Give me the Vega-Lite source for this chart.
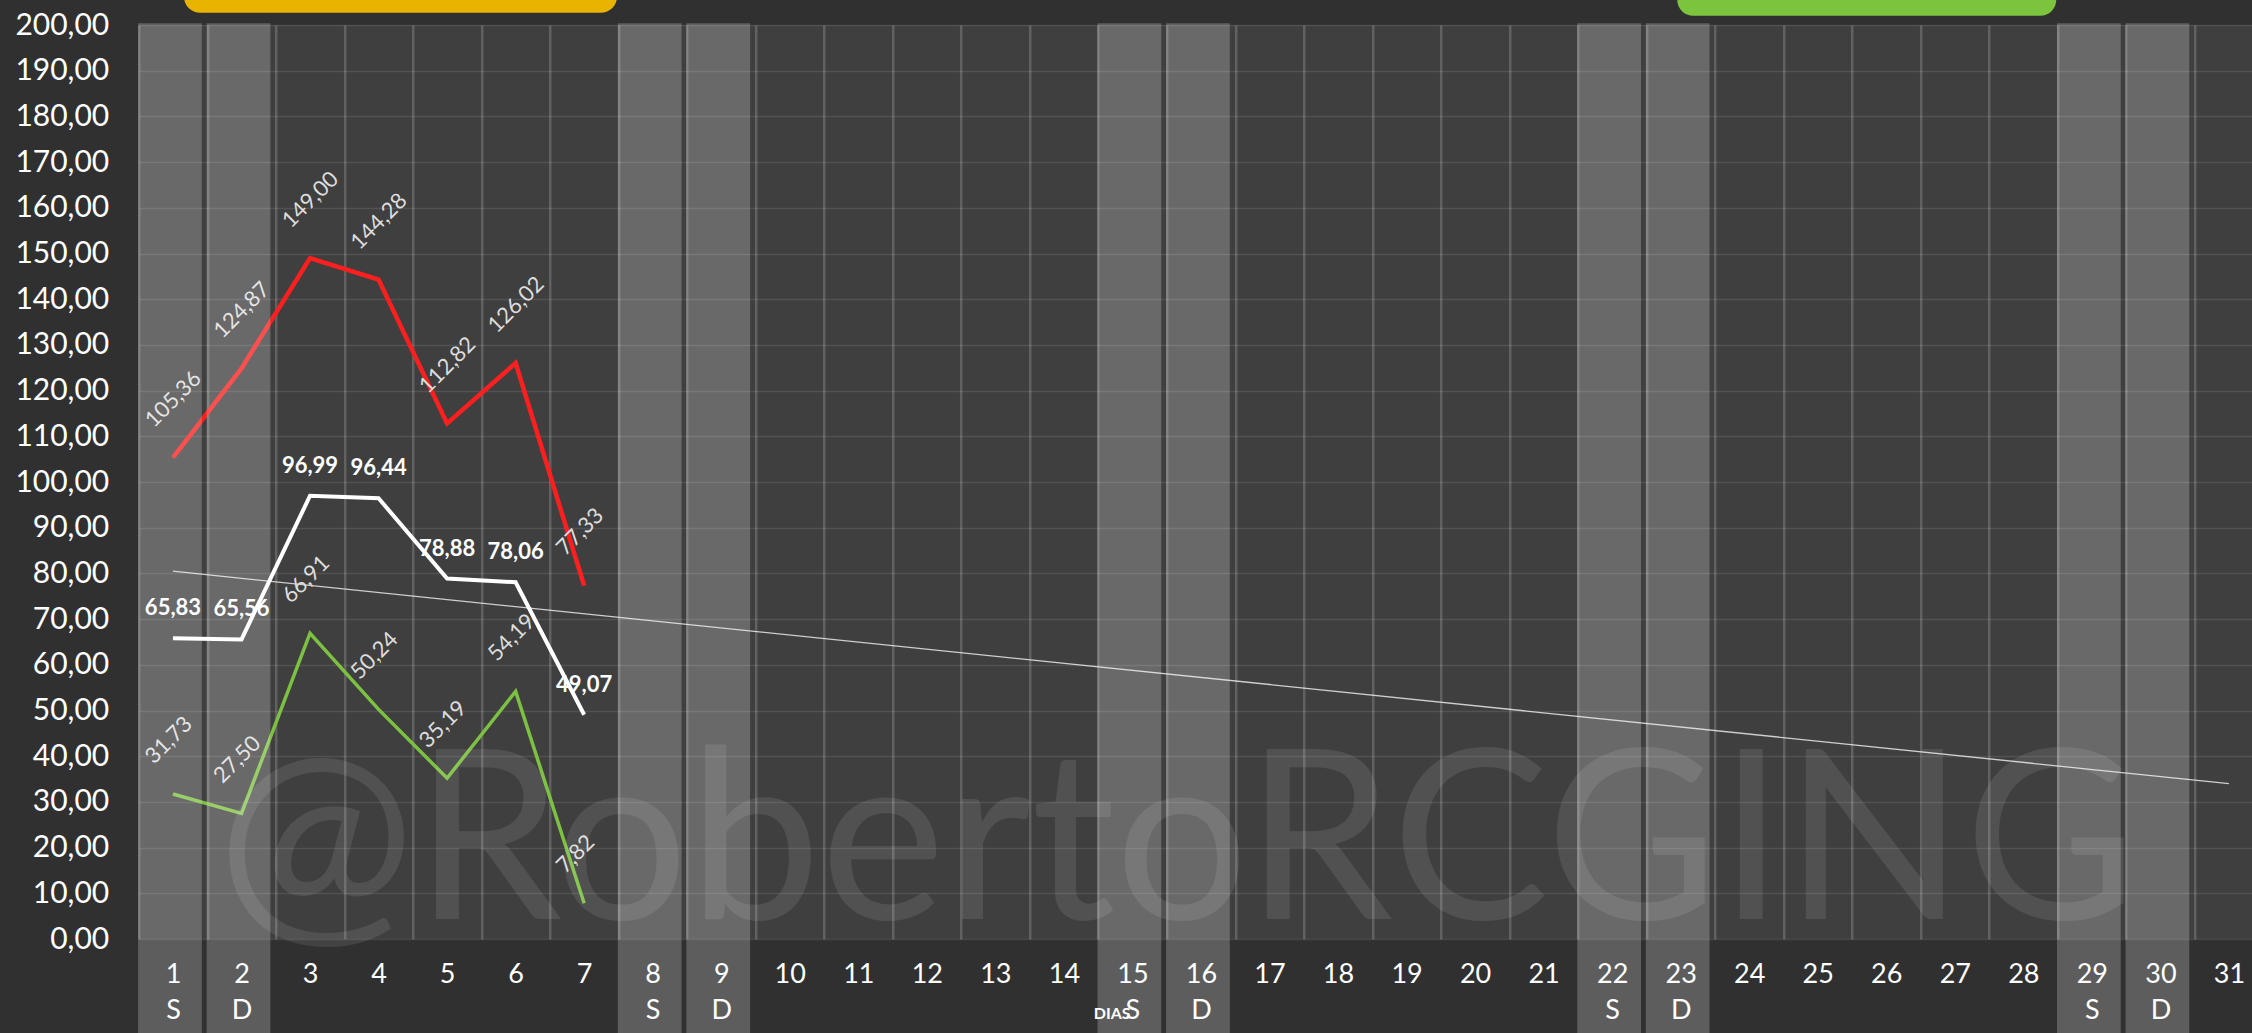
{
  "$schema": "https://vega.github.io/schema/vega-lite/v6.json",
  "width": 2113.3,
  "height": 914,
  "autosize": {"type": "none"},
  "padding": {"left": 138.7, "top": 25, "right": 0, "bottom": 94},
  "background": "#303030",
  "view": {"fill": "#3f3f3f", "stroke": null},
  "config": {
    "font": "Lato",
    "locale": {"number": {"decimal": ",", "thousands": ".", "grouping": [3], "currency": ["", " €"]}}
  },
  "datasets": {
    "series": [
      {"dia": 1, "serie": "max", "valor": 105.36},
      {"dia": 2, "serie": "max", "valor": 124.87},
      {"dia": 3, "serie": "max", "valor": 149.00},
      {"dia": 4, "serie": "max", "valor": 144.28},
      {"dia": 5, "serie": "max", "valor": 112.82},
      {"dia": 6, "serie": "max", "valor": 126.02},
      {"dia": 7, "serie": "max", "valor": 77.33},
      {"dia": 1, "serie": "media", "valor": 65.83},
      {"dia": 2, "serie": "media", "valor": 65.56},
      {"dia": 3, "serie": "media", "valor": 96.99},
      {"dia": 4, "serie": "media", "valor": 96.44},
      {"dia": 5, "serie": "media", "valor": 78.88},
      {"dia": 6, "serie": "media", "valor": 78.06},
      {"dia": 7, "serie": "media", "valor": 49.07},
      {"dia": 1, "serie": "min", "valor": 31.73},
      {"dia": 2, "serie": "min", "valor": 27.50},
      {"dia": 3, "serie": "min", "valor": 66.91},
      {"dia": 4, "serie": "min", "valor": 50.24},
      {"dia": 5, "serie": "min", "valor": 35.19},
      {"dia": 6, "serie": "min", "valor": 54.19},
      {"dia": 7, "serie": "min", "valor": 7.82}
    ],
    "findes": [
      {"dia": 1, "letra": "S"}, {"dia": 2, "letra": "D"},
      {"dia": 8, "letra": "S"}, {"dia": 9, "letra": "D"},
      {"dia": 15, "letra": "S"}, {"dia": 16, "letra": "D"},
      {"dia": 22, "letra": "S"}, {"dia": 23, "letra": "D"},
      {"dia": 29, "letra": "S"}, {"dia": 30, "letra": "D"}
    ],
    "tendencia": [
      {"dia": 1, "valor": 80.48},
      {"dia": 31, "valor": 33.99}
    ],
    "cajas": [
      {"x": 1.16, "x2": 7.48, "y": 202.7, "y2": 212, "caja": "amarillo"},
      {"x": 22.95, "x2": 28.48, "y": 202.0, "y2": 212, "caja": "verde"}
    ],
    "marca": [
      {"x": 15.65, "y": 4.4, "texto": "@RobertoRCGING"}
    ]
  },
  "layer": [
    {
      "layer": [
        {
          "data": {"name": "tendencia"},
          "mark": {"type": "line", "color": "#ffffff", "strokeWidth": 1.3, "opacity": 0.75},
          "encoding": {
            "x": {
              "field": "dia", "type": "ordinal",
              "scale": {"type": "band", "domain": [1,2,3,4,5,6,7,8,9,10,11,12,13,14,15,16,17,18,19,20,21,22,23,24,25,26,27,28,29,30,31], "range": [0, 2124.5], "paddingInner": 0, "paddingOuter": 0},
              "axis": {
                "title": "DIAS", "titleFontSize": 16, "titleFontWeight": "bold", "titleColor": "#ffffff",
                "titleX": 973, "titleY": 74, "titleAlign": "center", "titleBaseline": "middle",
                "labelAngle": 0, "labelFontSize": 27, "labelColor": "#ffffff", "labelPadding": 22, "labelLineHeight": 36,
                "labelExpr": "indexof([1,8,15,22,29], datum.value) >= 0 ? [datum.label, 'S'] : (indexof([2,9,16,23,30], datum.value) >= 0 ? [datum.label, 'D'] : datum.label)",
                "ticks": false, "domain": false, "grid": true, "gridColor": "#ffffff", "gridOpacity": 0.18, "gridWidth": 2.5, "tickBand": "extent"
              }
            },
            "y": {
              "field": "valor", "type": "quantitative",
              "scale": {"domain": [0, 200], "nice": false, "zero": false},
              "axis": {
                "title": null, "values": [0,10,20,30,40,50,60,70,80,90,100,110,120,130,140,150,160,170,180,190,200],
                "format": ".2f", "labelFontSize": 30, "labelColor": "#ffffff", "labelPadding": 30,
                "ticks": false, "domain": false, "grid": true, "gridColor": "#ffffff", "gridOpacity": 0.1, "gridWidth": 1.5
              }
            }
          }
        },
        {
          "data": {"name": "series"},
          "mark": {"type": "line"},
          "encoding": {
            "x": {"field": "dia", "type": "ordinal"},
            "y": {"field": "valor", "type": "quantitative", "scale": {"domain": [0, 200], "nice": false, "zero": false}},
            "color": {"field": "serie", "type": "nominal", "scale": {"domain": ["max", "media", "min"], "range": ["#ff1f1f", "#ffffff", "#7dc142"]}, "legend": null},
            "strokeWidth": {"field": "serie", "type": "nominal", "scale": {"domain": ["max", "media", "min"], "range": [4.5, 3.5, 3.5]}, "legend": null}
          }
        },
        {
          "data": {"name": "series"},
          "transform": [{"filter": "datum.serie == 'media'"}],
          "mark": {"type": "text", "fontSize": 22, "fontWeight": "bold", "color": "#ffffff", "align": "center", "baseline": "middle", "yOffset": -30},
          "encoding": {
            "x": {"field": "dia", "type": "ordinal"},
            "y": {"field": "valor", "type": "quantitative", "scale": {"domain": [0, 200], "nice": false, "zero": false}},
            "text": {"field": "valor", "type": "quantitative", "format": ".2f"}
          }
        },
        {
          "data": {"name": "series"},
          "transform": [{"filter": "datum.serie != 'media'"}],
          "mark": {"type": "text", "fontSize": 22, "color": "#dddddd", "angle": 315, "align": "left", "baseline": "alphabetic", "xOffset": -19, "yOffset": -29},
          "encoding": {
            "x": {"field": "dia", "type": "ordinal"},
            "y": {"field": "valor", "type": "quantitative", "scale": {"domain": [0, 200], "nice": false, "zero": false}},
            "text": {"field": "valor", "type": "quantitative", "format": ".2f"}
          }
        },
        {
          "data": {"name": "findes"},
          "mark": {"type": "bar", "color": "#ffffff", "opacity": 0.22, "width": {"band": 0.93}, "xOffset": -3},
          "encoding": {
            "x": {"field": "dia", "type": "ordinal"},
            "y": {"datum": 200.4, "type": "quantitative", "scale": {"domain": [0, 200], "nice": false, "zero": false}},
            "y2": {"datum": -25}
          }
        }
      ]
    },
    {
      "layer": [
        {
          "data": {"name": "marca"},
          "mark": {"type": "text", "fontSize": 236, "fontWeight": "normal", "color": "#ffffff", "opacity": 0.09, "align": "center", "baseline": "alphabetic"},
          "encoding": {
            "x": {"field": "x", "type": "quantitative", "scale": {"domain": [0.5, 31.5], "range": [0, 2124.5], "nice": false, "zero": false}, "axis": null},
            "y": {"field": "y", "type": "quantitative", "scale": {"domain": [0, 200], "nice": false, "zero": false}},
            "text": {"field": "texto"}
          }
        },
        {
          "data": {"name": "cajas"},
          "mark": {"type": "rect", "cornerRadius": 16},
          "encoding": {
            "x": {"field": "x", "type": "quantitative", "scale": {"domain": [0.5, 31.5], "range": [0, 2124.5], "nice": false, "zero": false}, "axis": null},
            "x2": {"field": "x2"},
            "y": {"field": "y", "type": "quantitative", "scale": {"domain": [0, 200], "nice": false, "zero": false}},
            "y2": {"field": "y2"},
            "color": {"field": "caja", "type": "nominal", "scale": {"domain": ["amarillo", "verde"], "range": ["#e8b400", "#7cc43e"]}, "legend": null}
          }
        }
      ],
      "resolve": {"scale": {"color": "independent"}}
    }
  ],
  "resolve": {"scale": {"x": "independent", "color": "independent"}}
}
